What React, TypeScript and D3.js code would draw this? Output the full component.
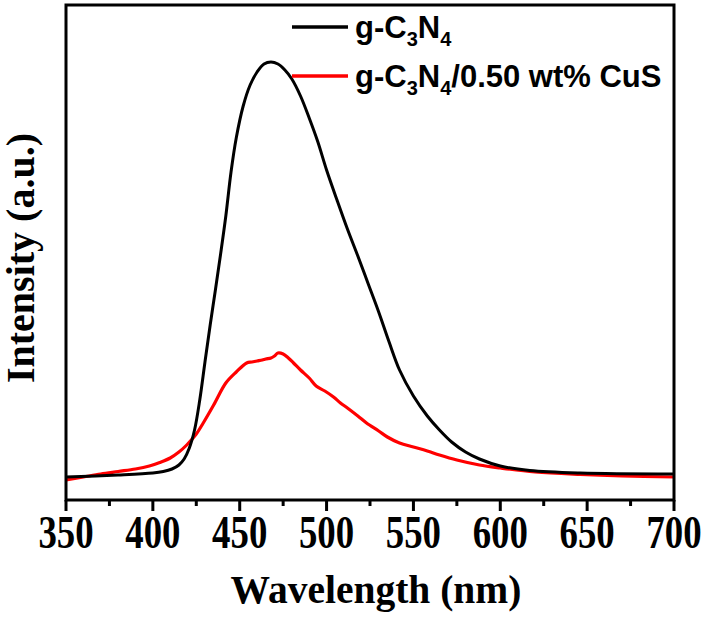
import React from "react";
import * as d3 from "d3";

const W = 708;
const H = 617;

const xTicks = [350, 400, 450, 500, 550, 600, 650, 700];
const xMinorTicks = [375, 425, 475, 525, 575, 625, 675];

const blackWl = [350, 380, 400, 406, 411, 415, 418, 421, 424, 427, 430, 433, 436, 439, 442, 445, 448, 452, 456, 460, 464, 468, 472, 476, 480, 485, 490, 495, 500, 506, 512, 518, 524, 530, 536, 542, 550, 558, 565, 572, 580, 588, 600, 617, 646, 700];
const blackVal = [23, 25, 27, 28.5, 31, 35, 41, 52, 70, 100, 138, 175, 210, 246, 284, 328, 362, 394, 415, 428, 436, 438, 436, 430, 421, 404, 382, 358, 330, 300, 271, 244, 216, 188, 158, 130, 104, 84, 70, 58, 48, 41, 34, 29.5, 27, 26];

const redWl = [350, 360, 370, 380, 390, 398, 404, 410, 415, 419.5, 425, 429, 435, 442, 448, 454, 457, 460, 463, 465, 468, 470, 472, 475, 478, 481, 485, 490, 494, 499, 504, 508, 512, 518, 523, 530, 535, 542, 550, 558, 565, 575, 588, 600, 620, 646, 670, 700];
const redVal = [20, 23, 26, 28.5, 31, 34, 37.5, 42, 48, 55, 66, 77, 95, 117, 128, 137, 138, 139, 140, 141, 142, 144, 147, 146, 142, 137, 130, 122, 114, 109, 103, 97, 92, 84, 77, 69, 63, 57, 53, 49, 45, 40, 35, 32, 28, 25.5, 24, 23];

const seriesNames = ["g-C3N4", "g-C3N4/0.50 wt% CuS"];
const seriesColors = ["#000000", "#ff0000"];

const left = 66, right = 674, top = 5, bottom = 500;

export default function App() {
  const x = d3.scaleLinear().domain([350, 700]).range([left, right]);
  const y = d3.scaleLinear().domain([0, 495]).range([bottom, top]);

  const line = d3
    .line<[number, number]>()
    .x((d) => x(d[0]))
    .y((d) => y(d[1]))
    .curve(d3.curveCatmullRom.alpha(0.5));

  const blackPts: [number, number][] = blackWl.map((w, i) => [w, blackVal[i]]);
  const redPts: [number, number][] = redWl.map((w, i) => [w, redVal[i]]);

  const serif = "'Liberation Serif', 'Times New Roman', serif";
  const sans = "'Liberation Sans', Arial, sans-serif";

  const legendY = [27, 76];

  return (
    <div style={{ position: "absolute", left: 0, top: 0 }}>
      <svg width={W} height={H} style={{ display: "block", background: "#fff" }}>
        <path d={line(redPts) || ""} fill="none" stroke={seriesColors[1]} strokeWidth={3.2} strokeLinejoin="round" />
        <path d={line(blackPts) || ""} fill="none" stroke={seriesColors[0]} strokeWidth={3} strokeLinejoin="round" />
        <rect x={left} y={top} width={right - left} height={bottom - top} fill="none" stroke="#000" strokeWidth={3} />
        {xTicks.map((t) => (
          <line key={"M" + t} x1={x(t)} x2={x(t)} y1={bottom} y2={bottom + 11} stroke="#000" strokeWidth={3} />
        ))}
        {xMinorTicks.map((t) => (
          <line key={"m" + t} x1={x(t)} x2={x(t)} y1={bottom} y2={bottom + 6} stroke="#000" strokeWidth={3} />
        ))}
        {xTicks.map((t) => (
          <text
            key={"l" + t}
            transform={`translate(${x(t)},548) scale(0.8,1)`}
            textAnchor="middle"
            fontFamily={serif}
            fontWeight="bold"
            fontSize={46}
          >
            {t}
          </text>
        ))}
        <text x={376} y={603} textAnchor="middle" fontFamily={serif} fontWeight="bold" fontSize={39.5}>
          Wavelength (nm)
        </text>
        <text
          transform="translate(34,258) rotate(-90)"
          textAnchor="middle"
          fontFamily={serif}
          fontWeight="bold"
          fontSize={40}
        >
          Intensity (a.u.)
        </text>
        {seriesNames.map((name, i) => (
          <g key={name}>
            <line x1={292} x2={348} y1={legendY[i]} y2={legendY[i]} stroke={seriesColors[i]} strokeWidth={3.5} />
            <text x={355} y={legendY[i] + 11} fontFamily={sans} fontWeight="bold" fontSize={31}>
              <tspan>g-C</tspan>
              <tspan fontSize={20} dy={8}>3</tspan>
              <tspan dy={-8}>N</tspan>
              <tspan fontSize={20} dy={8}>4</tspan>
              {i === 1 ? <tspan dy={-8}>/0.50 wt% CuS</tspan> : null}
            </text>
          </g>
        ))}
      </svg>
    </div>
  );
}
